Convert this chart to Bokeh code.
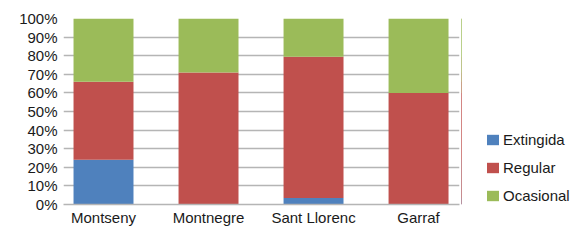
from bokeh.plotting import figure
from bokeh.layouts import row
from bokeh.models import ColumnDataSource, NumeralTickFormatter, FixedTicker, Legend, LegendItem, Range1d
from bokeh.embed import file_html
from bokeh.resources import INLINE

categories = ["Montseny", "Montnegre", "Sant Llorenc", "Garraf"]
series = ["Extingida", "Regular", "Ocasional"]
extingida = [0.24, 0.0, 0.035, 0.0]
regular = [0.42, 0.71, 0.76, 0.60]
ocasional = [0.34, 0.29, 0.205, 0.40]
colors = ["#4F81BD", "#C0504D", "#9BBB59"]
y_ticks = [i / 10 for i in range(11)]

xs = list(range(len(categories)))
source = ColumnDataSource(dict(x=xs, Extingida=extingida, Regular=regular, Ocasional=ocasional))

FONT = "Liberation Sans"
GRID = "#b5b5b5"
TXT = "#1a1a1a"

p = figure(width=461, height=228, output_backend="svg", toolbar_location=None,
           x_range=Range1d(-0.381, 3.390), y_range=Range1d(0, 1),
           min_border_left=63, min_border_right=2, min_border_top=18, min_border_bottom=0)
p.outline_line_color = None

p.vbar_stack(series, x="x", width=0.571, color=colors, source=source, line_color=None)

p.yaxis.ticker = FixedTicker(ticks=y_ticks)
p.yaxis.formatter = NumeralTickFormatter(format="0%")
p.yaxis.axis_line_color = None
p.yaxis.major_tick_line_color = None
p.yaxis.minor_tick_line_color = None
p.yaxis.major_tick_out = 0
p.yaxis.major_tick_in = 0
p.yaxis.major_label_standoff = 6
p.yaxis.major_label_text_font = FONT
p.yaxis.major_label_text_font_size = "15px"
p.yaxis.major_label_text_color = TXT

p.xaxis.ticker = FixedTicker(ticks=xs)
p.xaxis.major_label_overrides = {i: c for i, c in enumerate(categories)}
p.xaxis.axis_line_color = GRID
p.xaxis.axis_line_width = 1.5
p.xaxis.major_tick_line_color = None
p.xaxis.minor_tick_line_color = None
p.xaxis.major_tick_out = 0
p.xaxis.major_tick_in = 0
p.xaxis.major_label_standoff = 4
p.xaxis.major_label_text_font = FONT
p.xaxis.major_label_text_font_size = "15px"
p.xaxis.major_label_text_color = TXT

p.xgrid.grid_line_color = None
p.ygrid.ticker = FixedTicker(ticks=y_ticks)
p.ygrid.grid_line_color = GRID
p.ygrid.grid_line_width = 1.5

# legend panel
q = figure(width=110, height=228, output_backend="svg", toolbar_location=None,
           x_range=Range1d(10, 11), y_range=Range1d(0, 1),
           min_border_left=0, min_border_right=0, min_border_top=0, min_border_bottom=0)
q.axis.visible = False
q.grid.visible = False
q.outline_line_color = None
legend_renderers = q.vbar_stack(series, x="x", width=0.5, color=colors, source=source, line_color=None)

legend = Legend(items=[LegendItem(label=s, renderers=[r]) for s, r in zip(series, legend_renderers)],
                location=(24, 0), orientation="vertical",
                glyph_width=15, glyph_height=13, label_standoff=3,
                label_height=16, spacing=11, padding=0, margin=0,
                border_line_color=None, background_fill_alpha=0,
                label_text_font=FONT, label_text_font_size="15px", label_text_color=TXT)
q.add_layout(legend, "center")

layout = row(p, q)
open("out.html", "w").write(file_html(layout, INLINE))
